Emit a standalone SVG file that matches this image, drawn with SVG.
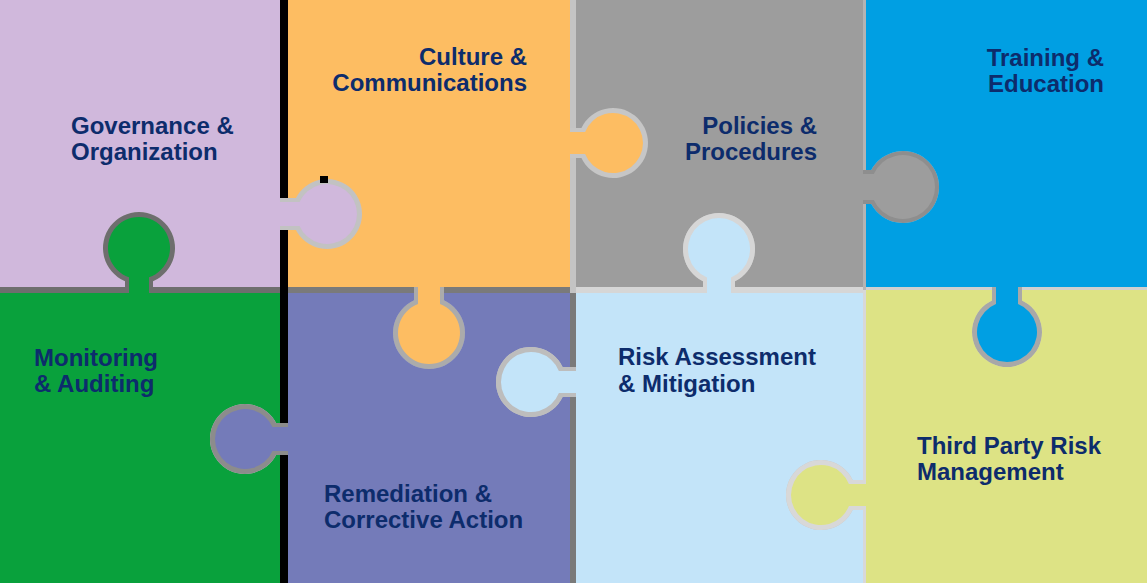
<svg xmlns="http://www.w3.org/2000/svg" width="1147" height="583" viewBox="0 0 1147 583">
<style>
.lbl{font-family:"Liberation Sans",Arial,sans-serif;font-weight:bold;font-size:24px;fill:#0d2c6c}
.r{text-anchor:end}
.pc{fill-rule:evenodd}
</style>
<g id="gaps">
<rect x="0" y="0" width="1147" height="583" fill="#c4c4c4"/>
<rect x="0" y="287" width="280" height="6" fill="#6e6e6e"/>
<rect x="288" y="287" width="282" height="6" fill="#7a7a7a"/>
<rect x="570" y="293" width="6" height="290" fill="#7a7a7a"/>
<rect x="576" y="287" width="290" height="6" fill="#d6d6d6"/>
<rect x="863" y="290" width="3" height="293" fill="#d8d8d8"/>
<rect x="863" y="0" width="3" height="290" fill="#b4b4b4"/>
<rect x="866" y="287" width="281" height="3" fill="#d0d0d0"/>
<rect x="280" y="0" width="8" height="583" fill="#000"/>
</g>
<g id="governance">
<path class="pc" fill="#d0b8dc" d="M0,0 H280 V287 H0 Z M125,287 L125,281.2 A36 36 0 1 1 153,281.2 L153,287 Z"/>
<path fill="#c2c2c2" d="M280,198 L295.9,198 A35 35 0 1 1 295.9,230 L280,230 Z"/>
<path fill="#d0b8dc" d="M276,202 L299.5,202 A30 30 0 1 1 299.5,226 L276,226 Z"/>
<text class="lbl" x="71" y="134">Governance &amp;</text>
<text class="lbl" x="71" y="160">Organization</text>
</g>
<g id="culture">
<path class="pc" fill="#fdbd62" d="M288,0 H570 V287 H288 Z M288,198 L295.9,198 A35 35 0 1 1 295.9,230 L288,230 Z"/>
<path fill="#ababab" d="M414,287 L414,300.3 A36 36 0 1 0 444,300.3 L444,287 Z"/>
<path fill="#fdbd62" d="M418,283 L418,304 A31 31 0 1 0 440,304 L440,283 Z"/>
<path fill="#c6c6c6" d="M570,128 L581.4,128 A35 35 0 1 1 581.4,158 L570,158 Z"/>
<path fill="#fdbd62" d="M566,132 L585.1,132 A30 30 0 1 1 585.1,154 L566,154 Z"/>
<text class="lbl r" x="527" y="65">Culture &amp;</text>
<text class="lbl r" x="527" y="91">Communications</text>
</g>
<g id="policies">
<path class="pc" fill="#9d9d9d" d="M576,0 H863 V287 H576 Z M576,128 L581.4,128 A35 35 0 1 1 581.4,158 L576,158 Z M703,287 L703,281.3 A36 36 0 1 1 735,281.3 L735,287 Z"/>
<path fill="#8e8e8e" d="M863,170 L871.3,170 A36 36 0 1 1 871.3,204 L863,204 Z"/>
<path fill="#9d9d9d" d="M859,174 L873.8,174 A32 32 0 1 1 873.8,200 L859,200 Z"/>
<text class="lbl r" x="817" y="134">Policies &amp;</text>
<text class="lbl r" x="817" y="160">Procedures</text>
</g>
<g id="training">
<path class="pc" fill="#009fe3" d="M866,0 H1147 V287 H866 Z M866,170 L871.3,170 A36 36 0 1 1 871.3,204 L866,204 Z"/>
<path fill="#a8a8a8" d="M992,287 L992,300.4 A35 35 0 1 0 1022,300.4 L1022,287 Z"/>
<path fill="#009fe3" d="M996,283 L996,304.1 A30 30 0 1 0 1018,304.1 L1018,283 Z"/>
<text class="lbl r" x="1104" y="66">Training &amp;</text>
<text class="lbl r" x="1104" y="92">Education</text>
</g>
<g id="monitoring">
<path class="pc" fill="#09a13c" d="M0,293 H280 V583 H0 Z M280,423 L276.1,423 A35 35 0 1 0 276.1,455 L280,455 Z"/>
<path fill="#6e6e6e" d="M125,293 L125,281.2 A36 36 0 1 1 153,281.2 L153,293 Z"/>
<path fill="#09a13c" d="M129,297 L129,277.3 A31 31 0 1 1 149,277.3 L149,297 Z"/>
<text class="lbl" x="34" y="366">Monitoring</text>
<text class="lbl" x="34" y="392">&amp; Auditing</text>
</g>
<g id="remediation">
<path class="pc" fill="#747bb9" d="M288,293 H570 V583 H288 Z M414,293 L414,300.3 A36 36 0 1 0 444,300.3 L444,293 Z M570,367 L562.6,367 A35 35 0 1 0 562.6,397 L570,397 Z"/>
<path fill="#8c8c8c" d="M288,423 L276.1,423 A35 35 0 1 0 276.1,455 L288,455 Z"/>
<path fill="#747bb9" d="M292,427 L272.5,427 A30 30 0 1 0 272.5,451 L292,451 Z"/>
<text class="lbl" x="324" y="502">Remediation &amp;</text>
<text class="lbl" x="324" y="528">Corrective Action</text>
</g>
<g id="risk-assessment">
<path class="pc" fill="#c3e4f9" d="M576,293 H863 V583 H576 Z M863,480 L852.6,480 A35 35 0 1 0 852.6,510 L863,510 Z"/>
<path fill="#bdbdbd" d="M576,367 L562.6,367 A35 35 0 1 0 562.6,397 L576,397 Z"/>
<path fill="#c3e4f9" d="M580,371 L558.9,371 A30 30 0 1 0 558.9,393 L580,393 Z"/>
<path fill="#d6d6d6" d="M703,293 L703,281.3 A36 36 0 1 1 735,281.3 L735,293 Z"/>
<path fill="#c3e4f9" d="M707,297 L707,277.6 A31 31 0 1 1 731,277.6 L731,297 Z"/>
<text class="lbl" x="618" y="365">Risk Assessment</text>
<text class="lbl" x="618" y="392">&amp; Mitigation</text>
</g>
<g id="third-party">
<path class="pc" fill="#dde385" d="M866,290 H1147 V583 H866 Z M992,290 L992,300.4 A35 35 0 1 0 1022,300.4 L1022,290 Z"/>
<path fill="#d8d8d8" d="M866,480 L852.6,480 A35 35 0 1 0 852.6,510 L866,510 Z"/>
<path fill="#dde385" d="M870,484 L848.9,484 A30 30 0 1 0 848.9,506 L870,506 Z"/>
<text class="lbl" x="917" y="454">Third Party Risk</text>
<text class="lbl" x="917" y="480">Management</text>
</g>
<rect x="320" y="176" width="8" height="7" fill="#000"/>
</svg>
